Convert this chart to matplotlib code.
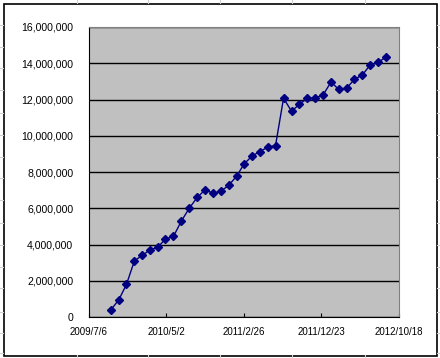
import matplotlib
matplotlib.use("Agg")
import matplotlib.pyplot as plt
import matplotlib.dates as mdates
from matplotlib.patches import Rectangle
from matplotlib.lines import Line2D
import pandas as pd
from matplotlib.ticker import FuncFormatter

# monthly values, month ends Sep 2009 .. Aug 2012
dates = pd.date_range("2009-09-30", periods=36, freq="ME")
values = [386000, 940000, 1800000, 3110000, 3400000, 3700000, 3850000, 4300000,
          4450000, 5280000, 6000000, 6600000, 7010000, 6840000, 6930000, 7270000,
          7780000, 8440000, 8880000, 9130000, 9370000, 9460000, 12070000, 11350000,
          11730000, 12070000, 12070000, 12250000, 12970000, 12560000, 12620000,
          13110000, 13350000, 13900000, 14050000, 14340000]

x_start = pd.Timestamp("2009-07-06")
x_end = pd.Timestamp("2012-10-18")
x_ticks = pd.date_range(x_start, x_end, freq="300D")
y_ticks = list(range(0, 16000001, 2000000))

W, H = 440, 358
fig = plt.figure(figsize=(W / 100, H / 100), dpi=100)
fig.patch.set_facecolor("white")

# faint spreadsheet cell lines outside the chart frame
for cx in [77, 148, 220, 292, 365]:
    fig.add_artist(Line2D([cx / W, cx / W], [1, 1 - 3 / H], color="#d0d0d0", lw=0.8))
    fig.add_artist(Line2D([cx / W, cx / W], [0, 3 / H], color="#d0d0d0", lw=0.8))
for cy in [25, 47, 68, 90, 113, 135, 157, 178, 200, 223, 245, 267, 288, 312, 333, 353]:
    fig.add_artist(Line2D([0, 3 / W], [1 - cy / H, 1 - cy / H], color="#d0d0d0", lw=0.8))
    fig.add_artist(Line2D([1 - 3 / W, 1], [1 - cy / H, 1 - cy / H], color="#d0d0d0", lw=0.8))

# chart frame
fig.add_artist(Rectangle((3.5 / W, 1 - 355.5 / H), 433 / W, 352 / H,
                         transform=fig.transFigure, fill=False, ec="black", lw=1.2))

ax = fig.add_axes([88.5 / W, 1 - 317 / H, 310 / W, 290 / H])
ax.set_facecolor("#c0c0c0")

ax.plot(dates, values, color="#000080", lw=1.0, marker="D", markersize=4.0,
        markerfacecolor="#000080", markeredgecolor="#000080", zorder=3)

ax.set_xlim(x_start, x_end)
ax.set_ylim(0, 16000000)
ax.set_xticks(x_ticks)
ax.set_yticks(y_ticks)
ax.xaxis.set_major_formatter(FuncFormatter(
    lambda v, p: (lambda d: f"{d.year}/{d.month}/{d.day}")(mdates.num2date(v))))
ax.yaxis.set_major_formatter(FuncFormatter(lambda v, p: f"{int(v):,}"))

ax.grid(axis="y", color="black", lw=1.0)
ax.set_axisbelow(True)

for s in ["top", "right"]:
    ax.spines[s].set_color("#808080")
for s in ["left", "bottom"]:
    ax.spines[s].set_color("black")

ax.tick_params(axis="x", direction="in", length=3, pad=7, labelsize=7,
               labelfontfamily="Liberation Sans")
ax.tick_params(axis="y", direction="in", length=0, pad=11, labelsize=7.6,
               labelfontfamily="Liberation Sans")

fig.savefig("out.png", dpi=100)
